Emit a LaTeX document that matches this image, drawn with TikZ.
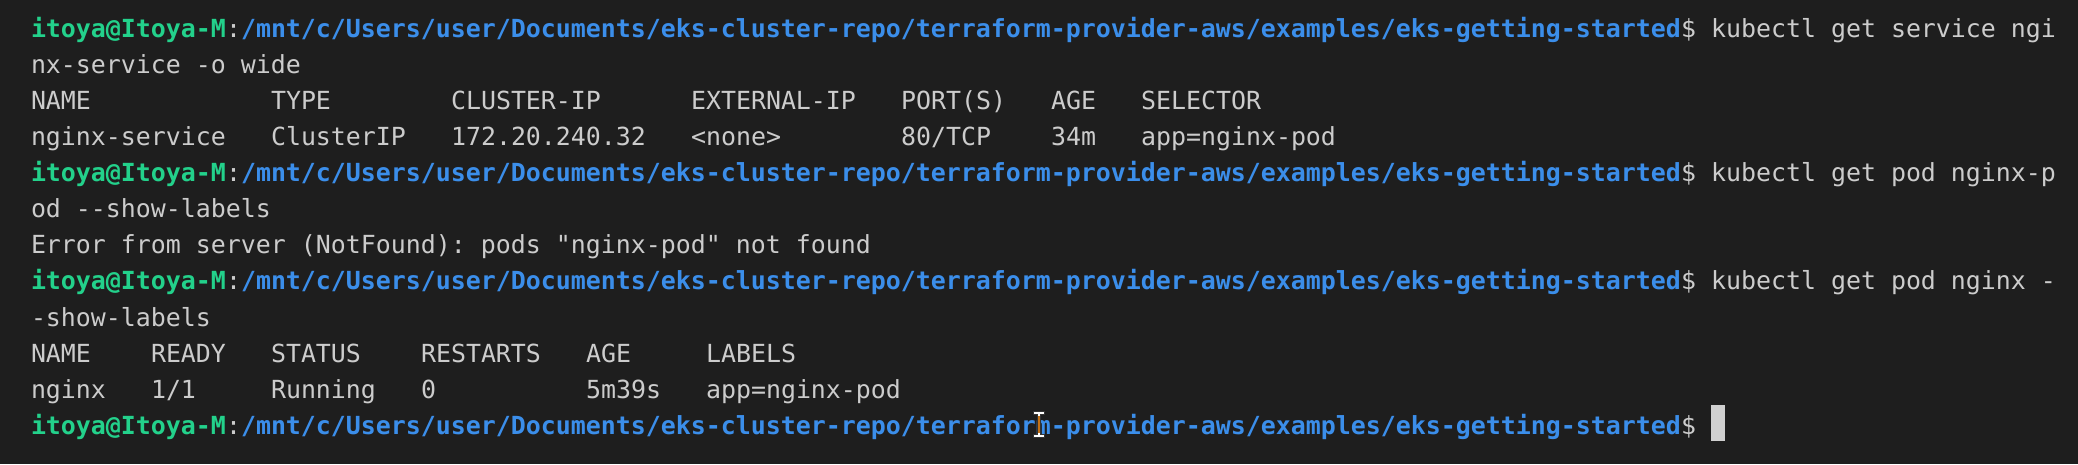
\documentclass[tikz,border=0pt]{standalone}
\usepackage{fontspec}
\setmonofont{DejaVu Sans Mono}
\usepackage{tikz}
\definecolor{termbg}{HTML}{1E1E1E}
\definecolor{termfg}{HTML}{CCCCCC}
\definecolor{termgreen}{HTML}{23D18B}
\definecolor{termblue}{HTML}{3B8EEA}
\definecolor{termcursor}{HTML}{D0D0D0}
\definecolor{termxor}{HTML}{C47115}
\tikzset{
	txt/.style={anchor=base west, inner sep=0pt, outer sep=0pt, text=termfg, font=\ttfamily\fontsize{24.915}{36}\selectfont},
	usr/.style={txt, text=termgreen, font=\ttfamily\bfseries\fontsize{24.915}{36}\selectfont},
	dir/.style={usr, text=termblue}
}
\def\prompt[#1](#2)#3{%
	\node[usr] (#1u) at (31, #2) {itoya@Itoya-M};
	\node[txt] (#1c) at ({31+15*13}, #2) {:};
	\node[dir] (#1d) at ({31+15*14}, #2) {/mnt/c/Users/user/Documents/eks-cluster-repo/terraform-provider-aws/examples/eks-getting-started};
	\node[txt] (#1s) at ({31+15*110}, #2) {\$#3};
}

\begin{document}
\begin{tikzpicture}[x=1pt, y=1pt]
			%%%%% START %%%%%
			
			\fill[termbg] (0, 0) rectangle (2078, 464);
			\useasboundingbox (0, 0) rectangle (2078, 464);
			
			\prompt[pa](426){\ kubectl get service ngi}
			\node[txt] (wrapa) at (31, 390) {nx-service -o wide};
			
			\node[txt] (hname) at ({31+15*0}, 354) {NAME};
			\node[txt] (htype) at ({31+15*16}, 354) {TYPE};
			\node[txt] (hcip) at ({31+15*28}, 354) {CLUSTER-IP};
			\node[txt] (heip) at ({31+15*44}, 354) {EXTERNAL-IP};
			\node[txt] (hport) at ({31+15*58}, 354) {PORT(S)};
			\node[txt] (hage) at ({31+15*68}, 354) {AGE};
			\node[txt] (hsel) at ({31+15*74}, 354) {SELECTOR};
			
			\node[txt] (sname) at ({31+15*0}, 318) {nginx-service};
			\node[txt] (stype) at ({31+15*16}, 318) {ClusterIP};
			\node[txt] (scip) at ({31+15*28}, 318) {172.20.240.32};
			\node[txt] (seip) at ({31+15*44}, 318) {<none>};
			\node[txt] (sport) at ({31+15*58}, 318) {80/TCP};
			\node[txt] (sage) at ({31+15*68}, 318) {34m};
			\node[txt] (ssel) at ({31+15*74}, 318) {app=nginx-pod};
			
			\prompt[pb](282){\ kubectl get pod nginx-p}
			\node[txt] (wrapb) at (31, 246) {od -{}-show-labels};
			\node[txt] (err) at (31, 210) {Error from server (NotFound): pods "nginx-pod" not found};
			
			\prompt[pc](174){\ kubectl get pod nginx -}
			\node[txt] (wrapc) at (31, 138) {-show-labels};
			
			\node[txt] (qname) at ({31+15*0}, 102) {NAME};
			\node[txt] (qready) at ({31+15*8}, 102) {READY};
			\node[txt] (qstat) at ({31+15*16}, 102) {STATUS};
			\node[txt] (qrest) at ({31+15*26}, 102) {RESTARTS};
			\node[txt] (qage) at ({31+15*37}, 102) {AGE};
			\node[txt] (qlab) at ({31+15*45}, 102) {LABELS};
			
			\node[txt] (pname) at ({31+15*0}, 66) {nginx};
			\node[txt] (pready) at ({31+15*8}, 66) {1/1};
			\node[txt] (pstat) at ({31+15*16}, 66) {Running};
			\node[txt] (prest) at ({31+15*26}, 66) {0};
			\node[txt] (page) at ({31+15*37}, 66) {5m39s};
			\node[txt] (plab) at ({31+15*45}, 66) {app=nginx-pod};
			
			\prompt[pd](30){}
			
			% block cursor
			\fill[termcursor] ({31+15*112}, 23) rectangle ({31+15*112+14}, 59);
			
			% mouse I-beam
			\draw[line width=3.2pt, color=black!80] (1039, 28) -- (1039, 51);
			\draw[line width=3.2pt, color=black!80] (1033, 51) -- (1045, 51);
			\draw[line width=3.2pt, color=black!80] (1033, 28) -- (1045, 28);
			\draw[line width=1.4pt, color=white] (1039, 28) -- (1039, 51);
			\draw[line width=1.4pt, color=white] (1034, 51) -- (1044, 51);
			\draw[line width=1.4pt, color=white] (1034, 28) -- (1044, 28);
			\draw[line width=1.4pt, color=termxor] (1039, 31) -- (1039, 48);
			
			%%%%% END %%%%%
\end{tikzpicture}
\end{document}
